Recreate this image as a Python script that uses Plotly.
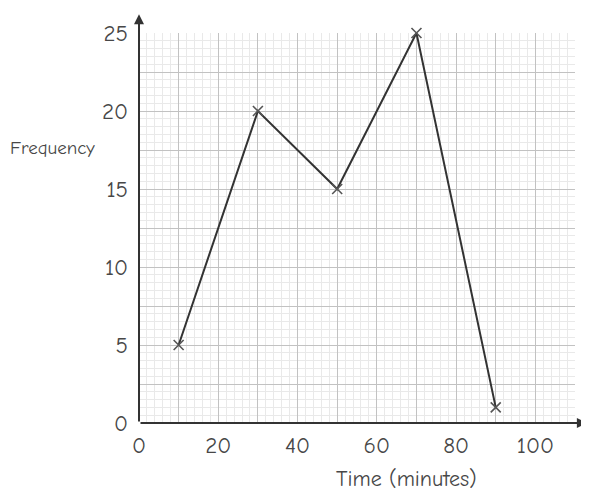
import plotly.graph_objects as go

time_mid = [10, 30, 50, 70, 90]
frequency = [5, 20, 15, 25, 1]

x_major = list(range(0, 111, 10))
x_labels = [str(v) if v % 20 == 0 and v <= 100 else "" for v in x_major]
y_major = [i * 2.5 for i in range(11)]
y_labels = [str(int(v)) if v % 5 == 0 else "" for v in y_major]

FONT = "Comic Sans MS, Comic Neue, Lato, sans-serif"
TXT = "#474747"

fig = go.Figure()
fig.add_trace(go.Scatter(
    x=time_mid, y=frequency, mode="lines+markers",
    line=dict(color="#333333", width=2),
    marker=dict(symbol="x-thin", size=10, line=dict(color="#555555", width=1.6)),
    cliponaxis=False, showlegend=False,
))

# page body has an 8px margin, so the figure is sized/offset to compensate
fig.update_layout(
    width=581, height=486,
    margin=dict(l=131, r=14, t=20, b=71),
    paper_bgcolor="white", plot_bgcolor="white",
    font=dict(family=FONT, color=TXT),
    xaxis=dict(
        range=[0, 110], tickmode="array", tickvals=x_major, ticktext=x_labels,
        showgrid=True, gridcolor="#c2c2c2", gridwidth=1,
        minor=dict(dtick=2, showgrid=True, gridcolor="#e9e9e9", gridwidth=1),
        zeroline=False, showline=False, ticks="",
        tickfont=dict(size=23, color=TXT, family=FONT), ticklabelstandoff=6,
        fixedrange=True,
    ),
    yaxis=dict(
        range=[0, 25], tickmode="array", tickvals=y_major, ticktext=y_labels,
        showgrid=True, gridcolor="#c2c2c2", gridwidth=1,
        minor=dict(dtick=0.5, showgrid=True, gridcolor="#e9e9e9", gridwidth=1),
        zeroline=False, showline=False, ticks="",
        tickfont=dict(size=23, color=TXT, family=FONT), ticklabelstandoff=10,
        fixedrange=True,
    ),
)

# axis lines with arrowheads
fig.add_annotation(x=0, y=26.2, ax=0, ay=0, xref="x", yref="y", axref="x", ayref="y",
                   text="", showarrow=True, arrowhead=2, arrowsize=1, arrowwidth=2,
                   arrowcolor="#333333")
fig.add_annotation(x=113, y=0, ax=0, ay=0, xref="x", yref="y", axref="x", ayref="y",
                   text="", showarrow=True, arrowhead=2, arrowsize=1, arrowwidth=2,
                   arrowcolor="#333333")

fig.add_annotation(text="Frequency", xref="paper", x=0, xshift=-131, xanchor="left",
                   yref="y", y=17.6, yanchor="middle", showarrow=False,
                   font=dict(size=19, color=TXT, family=FONT))
fig.add_annotation(text="Time (minutes)", xref="x", x=67.6, xanchor="center",
                   yref="paper", y=0, yshift=-56, yanchor="middle", showarrow=False,
                   font=dict(size=22, color=TXT, family=FONT))

fig.write_html("out.html")
